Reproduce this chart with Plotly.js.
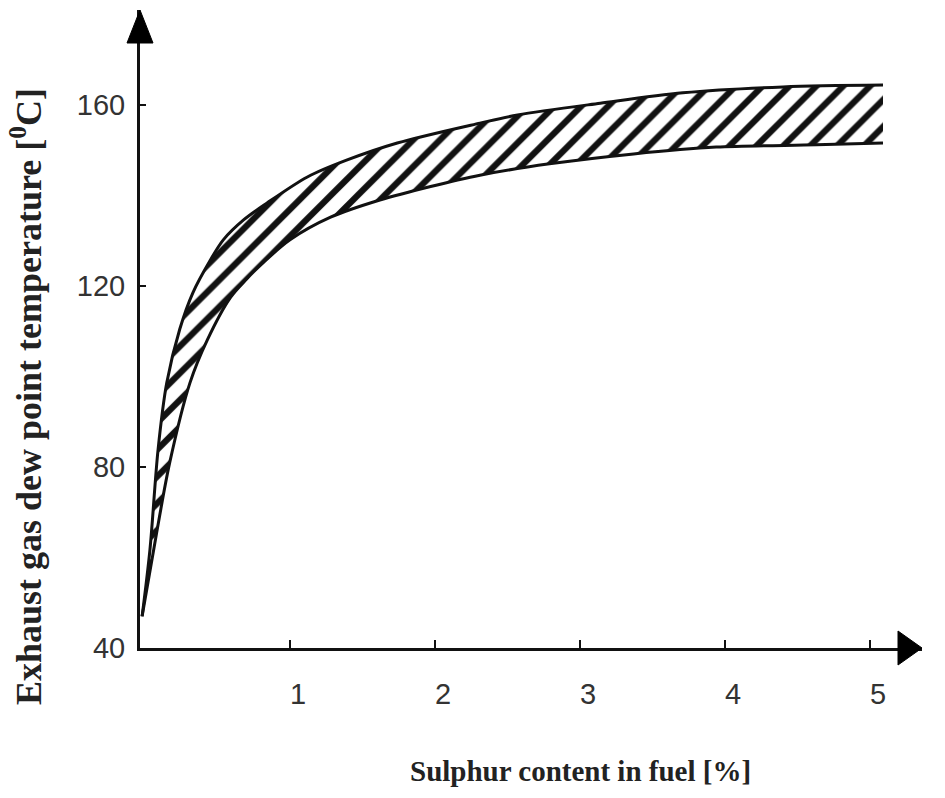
<!DOCTYPE html>
<html>
<head>
<meta charset="utf-8">
<script src="https://cdn.plot.ly/plotly-3.0.1.min.js"></script>
<style>html,body{margin:0;padding:0;background:#fff;}#chart{width:945px;height:798px;}</style>
</head>
<body>
<div id="chart"></div>
<script>
// Upper boundary of the dew-point band
const upperX = [-0.02, 0.034, 0.09, 0.15, 0.24, 0.33, 0.45, 0.54, 0.68, 0.84, 1.12, 1.39, 1.74, 2.31, 2.57, 3.14, 3.71, 4.40, 5.09];
const upperY = [47, 61.7, 83.8, 98.6, 110.5, 118.5, 125.7, 130.2, 134.6, 138.3, 144.1, 147.8, 151.6, 156.0, 157.8, 160.4, 162.7, 164.0, 164.4];
// Lower boundary of the dew-point band
const lowerX = [-0.02, 0.08, 0.17, 0.31, 0.43, 0.59, 0.70, 0.81, 1.0, 1.28, 1.62, 1.97, 2.31, 2.79, 3.37, 3.94, 4.63, 5.09];
const lowerY = [47, 65.4, 80.9, 98.6, 108.1, 117.5, 121.5, 125.0, 130.2, 135.2, 139.0, 142.0, 144.5, 147.0, 149.2, 150.7, 151.2, 151.6];
// Tick labels
const xTicks = [1, 2, 3, 4, 5];
const yTicks = [40, 80, 120, 160];

const lineStyle = {color: '#111', width: 3, shape: 'spline', smoothing: 0.9};

const traces = [
  {x: lowerX, y: lowerY, mode: 'lines', line: lineStyle, showlegend: false, hoverinfo: 'skip'},
  {x: upperX, y: upperY, mode: 'lines', line: lineStyle, fill: 'tonexty',
   fillcolor: 'rgba(0,0,0,0)',
   fillpattern: {shape: '/', size: 19, solidity: 0.33, fgcolor: '#111', bgcolor: '#fff', fillmode: 'replace'},
   showlegend: false, hoverinfo: 'skip'}
];

const layout = {
  width: 945, height: 798,
  margin: {l: 140, r: 23, t: 10, b: 150},
  paper_bgcolor: '#fff', plot_bgcolor: '#fff',
  showlegend: false,
  xaxis: {
    range: [-0.0345, 5.359], showgrid: false, zeroline: false,
    showline: true, linecolor: '#111', linewidth: 3,
    tickmode: 'array', tickvals: xTicks, ticktext: xTicks.map(String),
    ticks: 'inside', ticklen: 8, tickwidth: 2, tickcolor: '#111',
    ticklabelstandoff: 18, ticklabelshift: 8,
    tickfont: {family: 'Liberation Sans, Arial, sans-serif', size: 29, color: '#333'}
  },
  yaxis: {
    range: [40, 181], showgrid: false, zeroline: false,
    showline: true, linecolor: '#111', linewidth: 3,
    tickmode: 'array', tickvals: yTicks, ticktext: yTicks.map(String),
    ticks: 'inside', ticklen: 6, tickwidth: 2, tickcolor: '#111',
    ticklabelstandoff: 6,
    tickfont: {family: 'Liberation Sans, Arial, sans-serif', size: 29, color: '#333'}
  },
  shapes: [
    {type: 'path', xref: 'paper', yref: 'paper', xsizemode: 'pixel', ysizemode: 'pixel',
     xanchor: 0, yanchor: 1, path: 'M -13,-33 L 13,-33 L 0,0 Z',
     fillcolor: '#000', line: {color: '#000', width: 1}},
    {type: 'path', xref: 'paper', yref: 'paper', xsizemode: 'pixel', ysizemode: 'pixel',
     xanchor: 1, yanchor: 0, path: 'M -24,-17 L -24,17 L 0,0 Z',
     fillcolor: '#000', line: {color: '#000', width: 1}}
  ],
  annotations: [
    {text: 'Sulphur content in fuel [%]', xref: 'paper', yref: 'paper',
     x: (580 - 140) / 782, y: 0, yshift: -123, xanchor: 'center', yanchor: 'middle', showarrow: false,
     font: {family: 'Liberation Serif, Times New Roman, serif', size: 29, color: '#222', weight: 'bold'}},
    {text: 'Exhaust gas dew point temperature [<sup>0</sup>C]', xref: 'paper', yref: 'paper',
     x: 0, xshift: -114, y: (648 - 397) / 638, xanchor: 'center', yanchor: 'middle', textangle: -90, showarrow: false,
     font: {family: 'Liberation Serif, Times New Roman, serif', size: 36, color: '#222', weight: 'bold'}}
  ]
};

Plotly.newPlot('chart', traces, layout, {displayModeBar: false, staticPlot: true});
</script>
</body>
</html>
